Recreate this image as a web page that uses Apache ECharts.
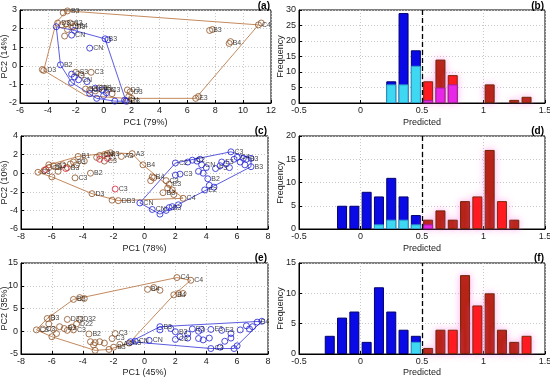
<!DOCTYPE html>
<html><head><meta charset="utf-8">
<script src="https://cdn.jsdelivr.net/npm/echarts@6/dist/echarts.min.js"></script>
<style>html,body{margin:0;padding:0;background:#fff}#c{width:550px;height:377px}</style>
</head><body><div id="c"></div>
<script>
// ---------- scatter (a) ----------
const aBrown = [[-2.6,2.95,'B3'],[-2.9,2.85,''],[-3.3,2.3,'D3'],[-3.0,2.2,''],[-2.7,2.25,'C3'],[-2.4,2.3,'C3'],[-2.2,2.1,'D3'],[-2.0,2.15,'B4'],[-2.6,1.95,''],[-2.8,1.6,''],[-4.3,-0.25,'D3'],[-4.4,-0.2,''],[-2.0,-0.35,'C3'],[-1.6,-0.5,''],[-0.9,-0.35,'C3'],[-1.3,-1.25,'B3'],[-1.0,-1.3,'C3'],[-0.6,-1.35,''],[-0.3,-1.2,'B3'],[0.3,-1.3,'C3'],[0.6,-1.5,''],[1.7,-1.3,'D3'],[1.9,-1.4,'D3'],[1.8,-1.65,''],[1.7,-1.9,'C3'],[2.0,-1.75,''],[7.6,1.9,'B3'],[7.8,1.95,''],[9.0,1.2,'B4'],[9.1,1.3,''],[11.1,2.2,'C4'],[11.3,2.3,''],[6.6,-1.75,'E3'],[6.8,-1.65,'']];
const aBlue = [[-3.4,2.1,''],[-2.3,1.65,'CN'],[-2.1,1.9,''],[-1.0,0.95,'CN'],[0.1,1.45,'B3'],[0.3,1.4,''],[-3.1,0.05,'B2'],[-2.3,-0.45,'C3'],[-2.1,-0.6,''],[-1.8,-0.75,'CN'],[-2.3,-0.9,''],[-1.2,-0.85,''],[-0.6,-1.2,'CN'],[-0.1,-1.3,'CN'],[0.2,-1.45,''],[-1.0,-1.5,''],[-0.5,-1.75,''],[0.8,-1.9,''],[1.5,-1.85,'CN'],[1.6,-1.9,''],[0.0,-1.6,'']];
const aBrownHull = [[-2.6,2.95],[11.1,2.2],[6.6,-1.75],[1.6,-1.75],[-1.3,-1.6],[-4.3,-0.25],[-3.4,2.35],[-2.6,2.95]];
const aBlueHull = [[-3.4,2.1],[-2.1,1.9],[0.1,1.45],[1.6,-1.9],[0.8,-1.9],[-0.5,-1.75],[-2.3,-0.9],[-3.1,0.05],[-3.4,2.1]];

// ---------- scatter (c) ----------
const cBrown = [[-6.9,0.1,'C3'],[-6.5,0.3,''],[-6.2,0.6,'CN'],[-6.2,0.9,''],[-5.9,0.8,'C3'],[-5.6,0.7,''],[-5.3,0.9,''],[-5.0,0.6,'B3'],[-4.8,1.0,''],[-4.6,1.2,'B3'],[-4.4,0.9,''],[-6.0,-0.4,''],[-5.6,0.2,''],[-4.3,1.8,'B1'],[-3.9,1.3,''],[-3.5,0.0,'B2'],[-4.5,-0.5,'C3'],[-3.4,-2.2,'D3'],[-1.7,-2.95,'DB3'],[-2.1,-2.9,''],[-3.1,1.7,''],[-2.9,1.9,'CN'],[-2.6,2.0,''],[-2.4,2.1,'B3'],[-2.2,2.2,''],[-2.6,1.3,'C3'],[-2.1,1.7,''],[-1.5,1.8,'A3'],[-0.8,2.1,'A3'],[-0.1,0.9,'B4'],[0.5,-0.4,'B4'],[0.4,-0.8,''],[0.6,-0.5,''],[1.6,-1.2,'E3'],[1.5,-1.6,''],[1.8,-1.8,''],[1.2,-2.1,'B3'],[1.9,-2.3,''],[2.5,-2.7,'C4'],[1.4,-0.8,'C3']];
const cRed = [[-6.4,0.4,''],[-5.1,0.5,''],[-2.9,1.5,''],[-2.4,1.6,''],[-1.9,-1.7,'C3']];
const cBlue = [[-0.3,-3.2,'CN'],[0.5,-3.9,'CN'],[1.0,-4.4,''],[1.4,-4.0,''],[1.8,-3.6,''],[2.2,-3.4,''],[1.6,-3.7,'B3'],[2.0,1.1,'C2'],[2.8,1.2,''],[3.1,1.4,'C2'],[3.4,1.3,''],[3.6,1.5,''],[2.3,-0.1,'C3'],[2.0,-0.2,''],[3.7,0.9,'CN'],[4.0,0.6,''],[3.5,0.2,''],[4.1,-0.6,'B2'],[3.8,0.0,''],[4.2,-1.3,''],[3.9,-1.8,'E2'],[4.5,-1.5,''],[4.6,0.5,'F3'],[4.9,0.8,''],[5.0,1.2,'E3'],[5.3,1.0,''],[5.6,2.3,'C3'],[5.8,1.5,''],[6.0,1.7,'C4'],[6.2,1.2,''],[6.4,1.6,''],[6.6,1.5,'B3'],[6.9,1.6,''],[6.9,0.7,'B3'],[6.5,0.9,''],[5.5,0.6,'']];
const cBrownHull = [[-6.9,0.1],[-6.2,0.9],[-4.3,1.8],[-2.2,2.2],[-0.8,2.1],[-0.1,0.9],[2.5,-2.7],[-1.7,-2.95],[-3.4,-2.2],[-6.0,-0.4],[-6.9,0.1]];
const cBlueHull = [[-0.3,-3.2],[2.0,1.1],[5.6,2.3],[6.9,1.6],[6.9,0.7],[1.0,-4.4],[-0.3,-3.2]];

// ---------- scatter (e) ----------
const eBrown = [[-7.0,0.3,'C3'],[-6.6,0.5,'C3'],[-6.3,2.8,'B3'],[-6.0,3.0,''],[-6.2,1.6,''],[-5.9,0.4,''],[-5.5,1.0,''],[-5.2,0.6,'B3'],[-5.0,0.2,''],[-4.7,0.9,''],[-6.0,-1.2,''],[-5.7,-0.5,''],[-5.0,2.6,'D32'],[-4.2,2.6,'D32'],[-4.4,1.6,'D22'],[-4.6,0.3,'C3'],[-4.6,7.0,'B3'],[-4.2,7.4,''],[-3.9,7.2,''],[0.2,9.2,'B4'],[0.6,9.6,''],[1.0,9.0,''],[1.9,8.0,'B4'],[2.2,8.3,''],[2.5,8.3,''],[2.1,11.8,'C4'],[3.0,11.2,'C4'],[-3.6,-0.6,'B2'],[-3.5,-2.3,''],[-3.2,-2.5,''],[-2.9,-2.3,''],[-2.6,-2.6,''],[-3.3,-3.0,''],[-2.1,-1.6,'C3'],[-1.9,-0.5,'C3'],[-1.6,-2.9,'A3'],[-1.0,-2.6,'A3'],[-3.2,-4.2,''],[-2.3,-4.0,''],[-2.0,-3.5,'B3']];
const eBlue = [[-0.9,-2.3,''],[-0.6,-2.2,'CN'],[0.3,-2.0,'CN'],[1.0,1.0,'B3'],[1.0,0.3,''],[1.7,0.6,''],[2.0,-0.1,'B3'],[2.3,-1.2,''],[2.0,-1.8,'C3'],[2.8,-0.6,''],[3.1,0.5,'E3'],[3.5,0.0,''],[3.7,0.4,''],[4.3,0.4,'E3'],[5.0,0.2,'E3'],[3.5,-1.6,''],[3.8,-1.9,''],[4.2,-1.5,''],[4.3,-3.8,'C3'],[4.9,-3.5,''],[5.6,-1.5,''],[5.2,-2.2,''],[5.8,-3.8,''],[6.0,-3.2,''],[5.6,-0.5,''],[6.2,0.3,''],[6.6,1.2,''],[7.0,1.0,''],[7.3,2.0,'E4'],[7.6,2.2,''],[6.8,0.5,''],[2.8,-1.5,'']];
const eBrownHull = [[-7.0,0.3],[-6.3,2.8],[-4.6,7.0],[2.1,11.8],[3.0,11.2],[1.9,8.0],[-1.0,-2.6],[-2.3,-4.0],[-3.2,-4.2],[-6.0,-1.2],[-7.0,0.3]];
const eBlueHull = [[-0.9,-2.3],[1.0,1.0],[7.6,2.2],[5.8,-3.8],[4.3,-3.8],[-0.9,-2.3]];

// ---------- histograms ----------
const bBlue = [[0.25,7],[0.35,29],[0.45,17]];
const bCyan = [[0.25,6],[0.35,6],[0.45,12]];
const bDark = [[0.65,14],[1.05,6],[1.25,1],[1.35,2]];
const bBright = [[0.55,7],[0.75,9]];
const bMagenta = [[0.55,1],[0.65,5],[0.75,6]];

const dBlue = [[-0.15,5],[-0.05,5],[0.05,8],[0.15,7],[0.25,11],[0.35,7],[0.45,3]];
const dCyan = [[0.15,1],[0.25,2],[0.35,2],[0.45,1]];
const dDark = [[0.55,2],[0.65,4],[0.75,2],[0.85,6],[1.05,17],[1.25,2]];
const dBright = [[0.95,7],[1.15,6]];
const dMagenta = [[0.55,1]];

const fBlue = [[-0.25,3],[-0.15,6],[-0.05,7],[0.05,2],[0.15,11],[0.25,7],[0.35,4],[0.45,3]];
const fCyan = [[0.45,2]];
const fDark = [[0.55,1],[0.65,4],[0.85,13],[1.05,10],[1.15,4],[1.25,2]];
const fBright = [[0.75,4],[0.95,8],[1.35,3]];
const fMagenta = [];

const threshold = 0.5;

// ---------- layout ----------
const FONT = 'Liberation Sans, Arial, sans-serif';
const grids = [
  {left:20, top:10, width:251, height:93},
  {left:299, top:10, width:246, height:93},
  {left:21, top:136, width:247, height:93},
  {left:299, top:136, width:246, height:93},
  {left:21, top:263, width:247, height:91},
  {left:299, top:263, width:246, height:91}
].map(g => Object.assign({show:true, borderColor:'#000', borderWidth:1, backgroundColor:'#fff', containLabel:false, outerBoundsMode:'none'}, g));

function axis(idx, min, max, interval, name, isY, gap) {
  return {
    type:'value', gridIndex:idx, min:min, max:max, interval:interval,
    name:name, nameLocation:'middle', nameGap:gap, nameMoveOverlap:false,
    nameTextStyle:{fontSize:9, color:'#222', fontFamily:FONT},
    axisLine:{show:true, onZero:false, lineStyle:{color:'#000', width:1}},
    axisTick:{show:true, inside:true, length:3, lineStyle:{color:'#000'}},
    axisLabel:{fontSize:9, color:'#222', margin:3, fontFamily:FONT, showMinLabel:true, showMaxLabel:true, hideOverlap:false},
    splitLine:{show:true, lineStyle:{color:'#c8c8c8', type:[1,2], width:1}}
  };
}
const xAxes = [
  axis(0,-6,12,2,'PC1 (79%)',false,15),
  axis(1,-0.5,1.5,0.5,'Predicted',false,15),
  axis(2,-8,8,2,'PC1 (78%)',false,15),
  axis(3,-0.5,1.5,0.5,'Predicted',false,15),
  axis(4,-8,8,2,'PC1 (45%)',false,14),
  axis(5,-0.5,1.5,0.5,'Predicted',false,14)
];
const yAxes = [
  axis(0,-2,3,1,'PC2 (14%)',true,11),
  axis(1,0,30,5,'Frequency',true,14),
  axis(2,-6,4,2,'PC2 (10%)',true,12),
  axis(3,0,20,5,'Frequency',true,14),
  axis(4,-5,15,5,'PC2 (35%)',true,12),
  axis(5,0,15,5,'Frequency',true,14)
];

const BROWN = '#8e5226', BLUE = '#2020d4', REDPT = '#e0203a';
function scatter(idx, data, color) {
  return {
    type:'scatter', xAxisIndex:idx, yAxisIndex:idx, data:data, symbol:'circle', symbolSize:6, z:4,
    itemStyle:{color:'rgba(255,255,255,0)', borderColor:color, borderWidth:1},
    label:{show:true, position:'right', distance:0, fontSize:7, color:'#111', fontFamily:FONT,
      formatter:p => p.data[2]}
  };
}
function hull(idx, data, color) {
  return {
    type:'line', xAxisIndex:idx, yAxisIndex:idx, data:data, symbol:'none', z:3,
    lineStyle:{color:color, width:1}, silent:true
  };
}
function bars(idx, data, color, border, glow, z) {
  return {
    type:'bar', xAxisIndex:idx, yAxisIndex:idx, data:data, barWidth:10, barGap:'-100%', z:z,
    itemStyle:Object.assign({color:color, borderColor:border, borderWidth:1},
      glow ? {shadowBlur:7, shadowColor:'rgba(255,120,225,0.55)'} : {})
  };
}
function histo(idx, blue, cyan, dark, bright, magenta) {
  const s = [
    bars(idx, blue, '#0a0ae6', '#00006e', false, 2),
    bars(idx, cyan, '#3fd8f2', '#2aa0c8', false, 3),
    bars(idx, dark, '#b41e0c', '#6e2608', true, 2),
    bars(idx, bright, '#ff1414', '#7a2a0a', true, 2),
    bars(idx, magenta, '#e826e8', '#a0209a', false, 3)
  ];
  s[0].markLine = {silent:true, symbol:['none','none'], label:{show:false},
    lineStyle:{type:[5,3], color:'#000', width:1.3}, data:[{xAxis:threshold}], z:10};
  return s;
}

const series = [
  hull(0, aBrownHull, '#c48a5e'), hull(0, aBlueHull, '#5c5ce0'),
  scatter(0, aBrown, BROWN), scatter(0, aBlue, BLUE),
  hull(2, cBrownHull, '#c48a5e'), hull(2, cBlueHull, '#5c5ce0'),
  scatter(2, cBrown, BROWN), scatter(2, cRed, REDPT), scatter(2, cBlue, BLUE),
  hull(4, eBrownHull, '#c48a5e'), hull(4, eBlueHull, '#5c5ce0'),
  scatter(4, eBrown, BROWN), scatter(4, eBlue, BLUE)
].concat(
  histo(1, bBlue, bCyan, bDark, bBright, bMagenta),
  histo(3, dBlue, dCyan, dDark, dBright, dMagenta),
  histo(5, fBlue, fCyan, fDark, fBright, fMagenta)
);

const panelLabels = [['(a)',271,7],['(b)',545,7],['(c)',268,132],['(d)',545,132],['(e)',268,259],['(f)',545,259]];
const graphic = panelLabels.map(p => ({
  type:'text', right:550 - p[1] + 1, top:p[2] - 6, z:100,
  style:{text:p[0], font:'bold 10px ' + FONT, fill:'#000'}
}));

const chart = echarts.init(document.getElementById('c'), null, {renderer:'canvas'});
chart.setOption({
  animation:false, backgroundColor:'#fff',
  grid:grids, xAxis:xAxes, yAxis:yAxes, series:series, graphic:graphic
});
</script></body></html>
